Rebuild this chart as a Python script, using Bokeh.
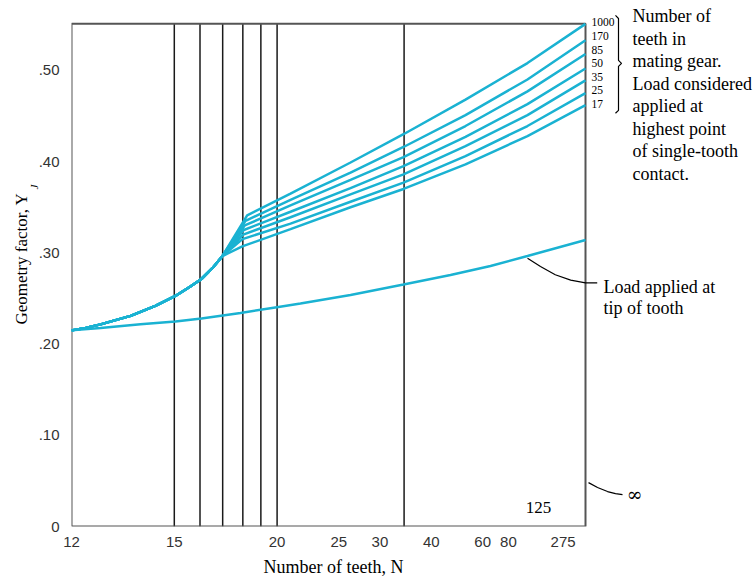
import numpy as np
from bokeh.plotting import figure
from bokeh.models import Range1d, FixedTicker, CustomJSTickFormatter, Title
from bokeh.core.properties import value
from bokeh.embed import file_html
from bokeh.resources import INLINE

INF = np.inf

# ---------------- data ----------------
mating_teeth = ["1000", "170", "85", "50", "35", "25", "17"]

# common part of the highest-point-of-single-tooth-contact curves
common_N = [12, 12.34, 12.72, 13.56, 14.34, 15.04, 15.61, 16.06, 16.54, 16.99]
common_Y = [0.215, 0.2177, 0.2216, 0.2309, 0.2418, 0.2527, 0.2631, 0.2713, 0.2834, 0.2965]

# kink point of each curve
kink_N = [18.23, 18.14, 18.10, 18.05, 18.02, 17.98, 17.97]
kink_Y = [0.341, 0.335, 0.330, 0.325, 0.320, 0.315, 0.307]

# upper part of each curve
upper_N = [20.91, 26.25, 33.89, 51.4, 106.3, INF]
upper_Y = {
    "1000": [0.365, 0.399, 0.430, 0.468, 0.508, 0.551],
    "170":  [0.358, 0.388, 0.416, 0.451, 0.490, 0.533],
    "85":   [0.352, 0.380, 0.405, 0.439, 0.477, 0.518],
    "50":   [0.345, 0.371, 0.395, 0.427, 0.463, 0.502],
    "35":   [0.339, 0.364, 0.386, 0.417, 0.451, 0.489],
    "25":   [0.332, 0.356, 0.377, 0.406, 0.439, 0.475],
    "17":   [0.326, 0.350, 0.370, 0.397, 0.428, 0.462],
}

# load applied at tip of tooth
tip_N = [12, 12.72, 13.86, 15.04, 16.06, 17.88, 20.09, 21.64, 26.25, 33.89,
         45.69, 64.93, 106.3, INF]
tip_Y = [0.215, 0.2177, 0.2216, 0.2248, 0.2281, 0.2341, 0.2407, 0.2445, 0.2538,
         0.2653, 0.2757, 0.2856, 0.2965, 0.3140]

x_tick_N = [12, 15, 20, 25, 30, 40, 60, 80, 275]
y_ticks = [0, 0.1, 0.2, 0.3, 0.4, 0.5]
grid_N = [15, 16, 17, 18, 19, 20, 34]
Y_TOP = 0.551

side_note = ["Number of", "teeth in", "mating gear.", "Load considered",
             "applied at", "highest point", "of single-tooth", "contact."]
tip_note = ["Load applied at", "tip of tooth"]

# ---------------- figure ----------------
def u(n):
    return 1.0 / np.asarray(n, dtype=float)

X_START = 1 / 12
X_END = -(171 / 514) / 12
Y_END = 527 / 914

CYAN = "#1ab2d2"
SERIF = "Liberation Serif"

p = figure(width=756, height=578, output_backend="svg", toolbar_location=None,
           x_range=Range1d(X_START, X_END), y_range=Range1d(0, Y_END),
           min_border_left=71, min_border_bottom=51, min_border_top=0,
           min_border_right=0)
p.grid.visible = False
p.outline_line_color = None
p.background_fill_color = "white"
p.border_fill_color = "white"

for ax in (p.xaxis[0], p.yaxis[0]):
    ax.axis_line_color = None
    ax.major_tick_line_color = None
    ax.minor_tick_line_color = None
    ax.major_label_text_font = "Liberation Sans"
    ax.major_label_text_font_size = "15px"
    ax.major_label_text_color = "#333333"

p.xaxis.ticker = FixedTicker(ticks=list(u(x_tick_N)))
p.xaxis.formatter = CustomJSTickFormatter(code="return String(Math.round(1/tick));")
p.xaxis.major_label_standoff = 4
p.yaxis.ticker = FixedTicker(ticks=y_ticks)
p.yaxis.formatter = CustomJSTickFormatter(
    code="return tick == 0 ? '0' : '.' + String(Math.round(tick*100)).padStart(2, '0');")
p.yaxis.major_label_standoff = 6

# vertical grid lines
gx = u(grid_N)
p.segment(x0=gx, y0=[0] * len(gx), x1=gx, y1=[Y_TOP] * len(gx),
          line_color="#1a1a1a", line_width=1.5)

# frame box
p.line(x=[X_START, X_START, 0, 0, X_START], y=[0, Y_TOP, Y_TOP, 0, 0],
       line_color="#555555", line_width=2)

# curves
for i, m in enumerate(mating_teeth):
    N = common_N + [kink_N[i]] + upper_N
    Y = common_Y + [kink_Y[i]] + upper_Y[m]
    p.line(x=u(N), y=Y, line_color=CYAN, line_width=2.5)
p.line(x=u(tip_N), y=tip_Y, line_color=CYAN, line_width=2.5)

# mating teeth labels at right
lab_y = [0.5525 - 0.01485 * i for i in range(len(mating_teeth))]
p.text(x=[-0.00097] * len(mating_teeth), y=lab_y, text=mating_teeth,
       text_font=value(SERIF), text_font_size="11.5px", text_baseline="middle",
       text_align="left", text_color="black")

# brace
p.line(x=[-0.00486, -0.00535, -0.00535, -0.00584, -0.00535, -0.00535, -0.00486],
       y=[0.5602, 0.5569, 0.5110, 0.5077, 0.5044, 0.4562, 0.4530],
       line_color="black", line_width=1.2)

# side note
p.text(x=[-0.00762] * len(side_note), y=[0.5591 - 0.02462 * i for i in range(len(side_note))],
       text=side_note, text_font=value(SERIF), text_font_size="18px",
       text_baseline="middle", text_align="left", text_color="black")

# tip leader and note
p.line(x=[0.0094, 0.0073, 0.0049, 0.0024, 0.0, -0.0019],
       y=[0.294, 0.285, 0.276, 0.270, 0.267, 0.267], line_color="black", line_width=1.2)
p.text(x=[-0.0029] * 2, y=[0.2626, 0.2396], text=tip_note, text_font=value(SERIF),
       text_font_size="18px", text_baseline="middle", text_align="left", text_color="black")

# infinity leader
p.line(x=[-0.00049, -0.00195, -0.00357, -0.00486, -0.0060],
       y=[0.0481, 0.0427, 0.0383, 0.0361, 0.0350], line_color="black", line_width=1.2)
p.text(x=[-0.0067], y=[0.0355], text=["\u221e"], text_font=value("DejaVu Serif"),
       text_font_size="19px", text_baseline="middle", text_align="left", text_color="black")

p.text(x=[0.00762], y=[0.0208], text=["125"], text_font=value(SERIF),
       text_font_size="17px", text_baseline="middle", text_align="center", text_color="black")

# axis titles
spacer = Title(text=" ", text_font_size="1px", align="left")
try:
    spacer.standoff = 3.5
except Exception:
    pass
p.add_layout(spacer, "below")

xt = Title(text="Number of teeth, N", align="left", offset=192, text_font=SERIF,
           text_font_size="18px", text_font_style="normal", text_color="black",
           vertical_align="top")
try:
    xt.standoff = 0
except Exception:
    pass
p.add_layout(xt, "below")

jt = Title(text="J", align="left", offset=337, text_font=SERIF, text_font_style="italic",
           text_font_size="11px", text_color="black", vertical_align="bottom")
try:
    jt.standoff = -9
except Exception:
    pass
p.add_layout(jt, "left")

yt = Title(text="Geometry factor, Y", align="left", offset=202, text_font=SERIF,
           text_font_size="17px", text_font_style="normal", text_color="black",
           vertical_align="bottom")
try:
    yt.standoff = 0
except Exception:
    pass
p.add_layout(yt, "left")

open("out.html", "w").write(file_html(p, INLINE))
